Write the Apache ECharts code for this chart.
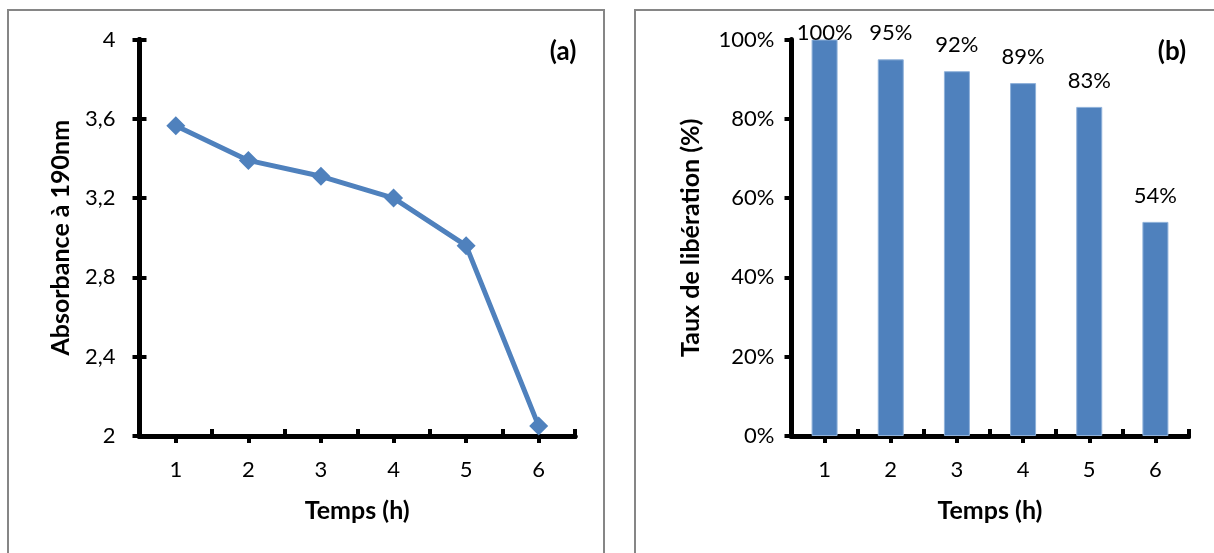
<!DOCTYPE html>
<html>
<head>
<meta charset="utf-8">
<script src="https://cdn.jsdelivr.net/npm/echarts@6/dist/echarts.min.js"></script>
<style>
html,body{margin:0;padding:0;background:#fff;}
#chart{width:1214px;height:553px;}
</style>
</head>
<body>
<div id="chart"></div>
<script>
// temps (h)
var hours = ['1', '2', '3', '4', '5', '6'];
// (a) absorbance a 190nm
var absorbance = [3.565, 3.39, 3.31, 3.2, 2.96, 2.05];
// (b) taux de liberation (%)
var liberation = [100, 95, 92, 89, 83, 54];

var blue = '#4F81BD';
var font = 'Lato, "Open Sans", sans-serif';

var chart = echarts.init(document.getElementById('chart'));

var tickLbl = {color: '#000', fontFamily: font, fontSize: 22};
var nameStyle = {color: '#000', fontFamily: font, fontSize: 25, fontWeight: 'bold'};
var blackLine = {show: true, lineStyle: {color: '#000', width: 5}};
var tickStyle = {color: '#000', width: 4};

function xAxes(gi) {
	return [{
		type: 'category', gridIndex: gi, data: hours, position: 'bottom',
		boundaryGap: true,
		axisLine: blackLine,
		axisTick: {show: true, alignWithLabel: true, length: 7, lineStyle: tickStyle},
		axisLabel: Object.assign({margin: 23}, tickLbl),
		name: 'Temps (h)', nameLocation: 'middle', nameGap: 62, nameTextStyle: nameStyle
	}, {
		type: 'category', gridIndex: gi, data: hours, position: 'bottom',
		boundaryGap: true,
		axisLine: blackLine,
		axisTick: {show: true, inside: true, length: 7, lineStyle: tickStyle},
		axisLabel: {show: false}
	}];
}

var option = {
	animation: false,
	graphic: [
		{type: 'rect', shape: {x: 8, y: 10, width: 596, height: 560}, style: {fill: 'none', stroke: '#868686', lineWidth: 2}},
		{type: 'rect', shape: {x: 635, y: 10, width: 600, height: 560}, style: {fill: 'none', stroke: '#868686', lineWidth: 2}},
		{type: 'text', x: 563, y: 52, style: {text: '(a)', font: 'bold 26px Lato, sans-serif', fill: '#000', align: 'center', verticalAlign: 'middle'}},
		{type: 'text', x: 1172, y: 52, style: {text: '(b)', font: 'bold 26px Lato, sans-serif', fill: '#000', align: 'center', verticalAlign: 'middle'}}
	],
	grid: [
		{left: 139.5, top: 39.5, width: 435.5, height: 396.5},
		{left: 791.5, top: 39.5, width: 397, height: 396.5}
	],
	xAxis: xAxes(0).concat(xAxes(1)),
	yAxis: [{
		type: 'value', gridIndex: 0, position: 'left', min: 2, max: 4, interval: 0.4,
		splitLine: {show: false},
		axisLine: blackLine,
		axisTick: {show: true, length: 7, lineStyle: tickStyle},
		axisLabel: Object.assign({margin: 24, formatter: function (v) {
			return String(+v.toFixed(1)).replace('.', ',');
		}}, tickLbl),
		name: 'Absorbance à 190nm', nameLocation: 'middle', nameGap: 66, nameTextStyle: nameStyle
	}, {
		type: 'value', gridIndex: 0, position: 'left', min: 2, max: 4, interval: 0.4,
		splitLine: {show: false},
		axisLine: blackLine,
		axisTick: {show: true, inside: true, length: 7, lineStyle: tickStyle},
		axisLabel: {show: false}
	}, {
		type: 'value', gridIndex: 1, position: 'left', min: 0, max: 100, interval: 20,
		splitLine: {show: false},
		axisLine: blackLine,
		axisTick: {show: true, length: 7, lineStyle: tickStyle},
		axisLabel: Object.assign({margin: 17, formatter: '{value}%'}, tickLbl),
		name: 'Taux de libération (%)', nameLocation: 'middle', nameGap: 88, nameTextStyle: nameStyle
	}],
	series: [{
		type: 'line', xAxisIndex: 0, yAxisIndex: 0,
		data: absorbance,
		symbol: 'diamond', symbolSize: 19,
		lineStyle: {color: blue, width: 5},
		itemStyle: {color: blue}
	}, {
		type: 'bar', xAxisIndex: 2, yAxisIndex: 2,
		barWidth: 26,
		data: liberation.map(function (v) {
			return v >= 100 ? {value: v, label: {distance: -4}} : v;
		}),
		itemStyle: {color: blue, borderColor: '#8fb1da', borderWidth: 1},
		label: {show: true, position: 'top', distance: 15, formatter: '{c}%', color: '#000', fontFamily: font, fontSize: 22}
	}]
};
chart.setOption(option);
</script>
</body>
</html>
